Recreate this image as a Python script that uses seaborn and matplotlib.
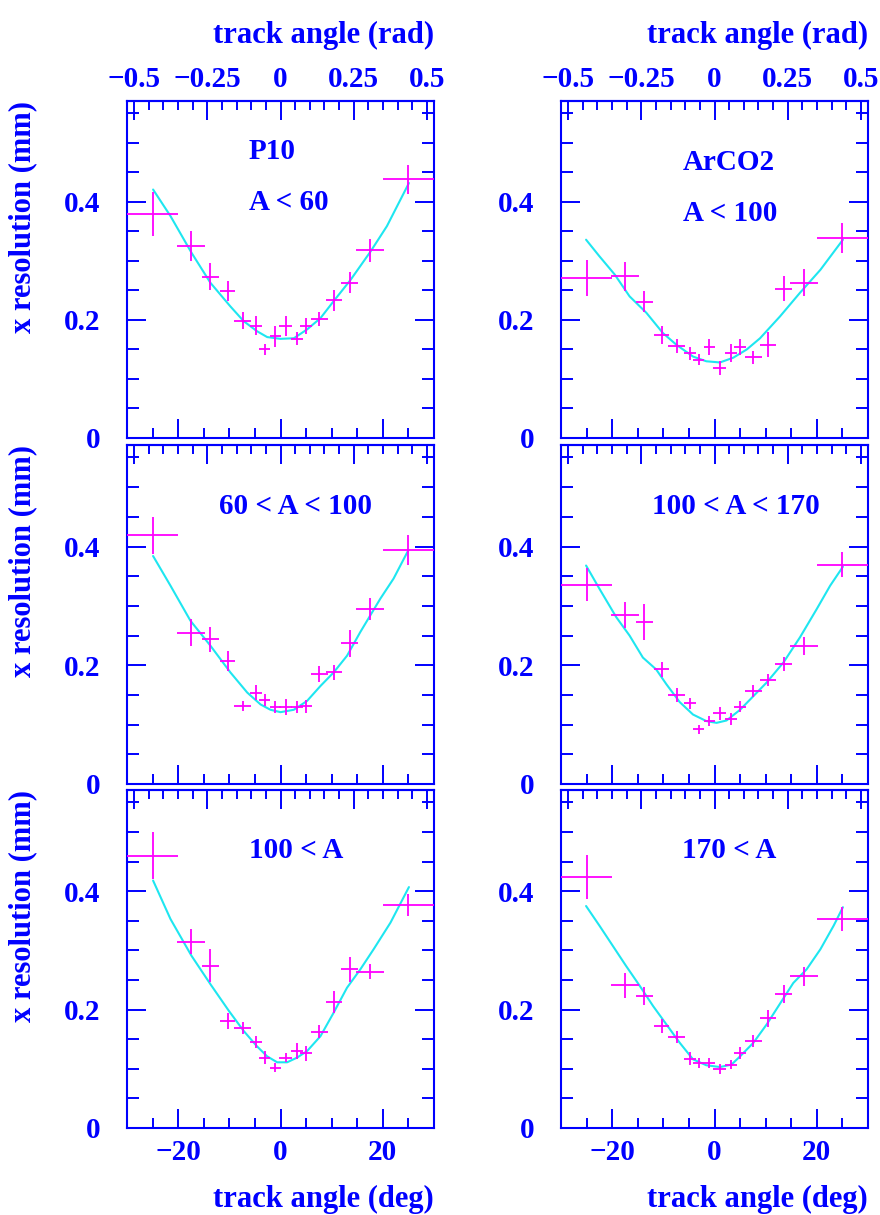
import numpy as np
import pandas as pd
import matplotlib
matplotlib.use('Agg')
import matplotlib.pyplot as plt
import seaborn as sns
from matplotlib.ticker import MultipleLocator, FixedLocator, FuncFormatter

# bin centres (deg) and half widths, same binning in every panel
angle = [-25, -17.5, -13.7, -10.3, -7.4, -4.8, -3.1, -1.0, 1.0, 3.2, 5.0, 7.6, 10.4, 13.5, 17.5, 25]
angle_err = [5, 2.7, 1.6, 1.5, 1.6, 1.15, 1.05, 1.1, 1.2, 1.2, 1.15, 1.6, 1.6, 1.7, 2.7, 5]

# measured x resolution (mm) per panel
res_p10 = [0.380, 0.325, 0.273, 0.249, 0.199, 0.190, 0.150, 0.172, 0.189, 0.168, 0.190, 0.201, 0.233, 0.263, 0.318, 0.438]
err_p10 = [0.037, 0.025, 0.023, 0.017, 0.014, 0.016, 0.010, 0.018, 0.017, 0.011, 0.013, 0.012, 0.018, 0.018, 0.019, 0.024]
res_ar100 = [0.271, 0.274, 0.231, 0.175, 0.156, 0.144, 0.133, 0.154, 0.119, 0.144, 0.154, 0.137, 0.158, 0.253, 0.263, 0.339]
err_ar100 = [0.031, 0.025, 0.018, 0.015, 0.012, 0.011, 0.009, 0.014, 0.012, 0.016, 0.014, 0.011, 0.021, 0.021, 0.023, 0.025]
res_60_100 = [0.419, 0.255, 0.244, 0.207, 0.131, 0.154, 0.141, 0.130, 0.130, 0.130, 0.131, 0.185, 0.188, 0.237, 0.295, 0.394]
err_60_100 = [0.031, 0.023, 0.021, 0.017, 0.008, 0.012, 0.010, 0.010, 0.014, 0.010, 0.011, 0.014, 0.012, 0.023, 0.018, 0.025]
res_100_170 = [0.336, 0.285, 0.273, 0.193, 0.150, 0.136, 0.092, 0.106, 0.119, 0.110, 0.130, 0.157, 0.175, 0.202, 0.233, 0.369]
err_100_170 = [0.028, 0.022, 0.030, 0.012, 0.012, 0.009, 0.008, 0.008, 0.011, 0.010, 0.009, 0.010, 0.010, 0.012, 0.015, 0.021]
res_100 = [0.460, 0.315, 0.274, 0.181, 0.169, 0.145, 0.119, 0.102, 0.119, 0.130, 0.126, 0.163, 0.213, 0.268, 0.264, 0.377]
err_100 = [0.040, 0.021, 0.028, 0.014, 0.010, 0.010, 0.011, 0.008, 0.008, 0.013, 0.013, 0.011, 0.018, 0.021, 0.013, 0.019]
res_170 = [0.424, 0.241, 0.223, 0.172, 0.154, 0.117, 0.110, 0.110, 0.100, 0.107, 0.126, 0.147, 0.185, 0.226, 0.256, 0.353]
err_170 = [0.037, 0.021, 0.015, 0.012, 0.010, 0.011, 0.008, 0.008, 0.008, 0.008, 0.010, 0.010, 0.015, 0.015, 0.016, 0.020]

# fitted curves
fit_x_p10 = [-24.9, -21.5, -17.4, -13.7, -9.8, -7.2, -4.6, -2.6, 0, 2.6, 5.2, 7.8, 10.4, 13.7, 17.6, 20.8, 25.1]
fit_y_p10 = [0.421, 0.376, 0.314, 0.263, 0.223, 0.198, 0.181, 0.171, 0.168, 0.169, 0.184, 0.203, 0.232, 0.268, 0.316, 0.359, 0.432]
fit_x_ar100 = [-25.1, -22.5, -19.5, -16.6, -13.3, -10.1, -7.45, -4.2, -1.6, 1.05, 3.66, 6.3, 8.9, 12.8, 16.7, 20.7, 25.1]
fit_y_ar100 = [0.336, 0.308, 0.277, 0.240, 0.212, 0.178, 0.158, 0.138, 0.130, 0.128, 0.136, 0.150, 0.169, 0.206, 0.246, 0.285, 0.336]
fit_x_60_100 = [-24.9, -21.5, -17.6, -13.7, -9.8, -6.5, -3.9, -1.95, 0, 2.6, 5.2, 7.8, 10.4, 13.0, 15.6, 19.5, 22.1, 25.0]
fit_y_60_100 = [0.384, 0.334, 0.275, 0.233, 0.188, 0.154, 0.134, 0.125, 0.121, 0.125, 0.140, 0.165, 0.188, 0.216, 0.256, 0.312, 0.346, 0.394]
fit_x_100_170 = [-25.1, -22.5, -19.2, -16.6, -14.0, -11.4, -9.4, -6.8, -4.2, -1.6, 0.4, 2.35, 5.0, 7.6, 10.2, 13.5, 16.7, 20.0, 22.6, 25.1]
fit_y_100_170 = [0.368, 0.329, 0.281, 0.250, 0.213, 0.193, 0.168, 0.138, 0.117, 0.106, 0.103, 0.107, 0.125, 0.148, 0.171, 0.205, 0.247, 0.295, 0.334, 0.366]
fit_x_100 = [-24.9, -21.5, -17.4, -13.7, -10.1, -7.2, -4.6, -2.6, -0.65, 1.3, 3.26, 5.2, 7.8, 10.4, 13.0, 15.6, 18.2, 21.5, 25.1]
fit_y_100 = [0.418, 0.353, 0.291, 0.243, 0.198, 0.164, 0.138, 0.121, 0.111, 0.111, 0.119, 0.130, 0.155, 0.195, 0.237, 0.268, 0.302, 0.347, 0.407]
fit_x_170 = [-25.1, -22.5, -19.9, -17.3, -14.6, -12.0, -9.4, -6.8, -4.2, -1.6, 1.05, 3.3, 5.0, 7.6, 10.2, 12.8, 15.4, 18.0, 20.7, 23.3, 25.1]
fit_y_170 = [0.375, 0.342, 0.308, 0.274, 0.240, 0.206, 0.175, 0.144, 0.116, 0.106, 0.103, 0.107, 0.121, 0.144, 0.175, 0.210, 0.245, 0.268, 0.302, 0.342, 0.373]

panel_text = [["P10", "A < 60"], ["ArCO2", "A < 100"], ["60 < A < 100"],
              ["100 < A < 170"], ["100 < A"], ["170 < A"]]
deg_ticks = [-20, 0, 20]
rad_ticks = [-0.5, -0.25, 0, 0.25, 0.5]
res_ticks = [0, 0.2, 0.4]

panels = [
    (res_p10, err_p10, fit_x_p10, fit_y_p10),
    (res_ar100, err_ar100, fit_x_ar100, fit_y_ar100),
    (res_60_100, err_60_100, fit_x_60_100, fit_y_60_100),
    (res_100_170, err_100_170, fit_x_100_170, fit_y_100_170),
    (res_100, err_100, fit_x_100, fit_y_100),
    (res_170, err_170, fit_x_170, fit_y_170),
]
# text anchor (deg, mm) for the labels in each panel
text_pos = [[(-6.25, 0.485), (-6.25, 0.399)], [(-6.25, 0.467), (-6.25, 0.380)],
            [(-12.1, 0.467)], [(-12.3, 0.467)], [(-6.25, 0.468)], [(-6.4, 0.468)]]

sns.set_style('white')
plt.rcParams['font.family'] = ['Liberation Serif', 'DejaVu Serif']
plt.rcParams['font.weight'] = 'bold'
plt.rcParams['axes.labelweight'] = 'bold'

BLUE = '#0000ff'
MAGENTA = '#ff00ff'
CYAN = '#1ee6f0'


def num_fmt(v, pos):
    if abs(v) < 1e-9:
        return '0'
    return f'{v:g}'.replace('-', '\u2212')


fig = plt.figure(figsize=(8.8, 12.15), dpi=100)
W, H = 880, 1215
col_left = [127, 561]
row_top = [101, 445, 790]
row_h = [337, 339, 338]

for i, (res, err, fx, fy) in enumerate(panels):
    row, col = divmod(i, 2)
    left, top, h, w = col_left[col], row_top[row], row_h[row], 307
    ax = fig.add_axes([left / W, 1 - (top + h) / H, w / W, h / H])

    curve = pd.DataFrame({'angle': fx, 'res': fy})
    sns.lineplot(data=curve, x='angle', y='res', sort=False, estimator=None,
                 color=CYAN, linewidth=1.5, ax=ax, legend=False, zorder=2)
    ax.errorbar(angle, res, xerr=angle_err, yerr=err, fmt='none',
                ecolor=MAGENTA, elinewidth=1.3, capsize=0, zorder=3)

    ax.set_xlim(-30, 30)
    ax.set_ylim(0, 0.571)
    ax.xaxis.set_major_locator(FixedLocator(deg_ticks))
    ax.xaxis.set_minor_locator(MultipleLocator(5))
    ax.yaxis.set_major_locator(FixedLocator(res_ticks))
    ax.yaxis.set_minor_locator(MultipleLocator(0.05))
    ax.xaxis.set_major_formatter(FuncFormatter(num_fmt))
    ax.yaxis.set_major_formatter(FuncFormatter(num_fmt))
    ax.set_xlabel('')
    ax.set_ylabel('')

    ax.tick_params(which='both', direction='in', colors=BLUE, width=1.4,
                   labelsize=21, top=False, right=True, left=True, bottom=True,
                   labelbottom=(row == 2))
    ax.tick_params(which='major', length=14)
    ax.tick_params(axis='y', which='minor', length=8.5, pad=19)
    ax.tick_params(axis='y', which='major', pad=19)
    ax.tick_params(axis='x', which='minor', length=7)
    ax.tick_params(axis='x', which='major', pad=8)
    for sp in ax.spines.values():
        sp.set_color(BLUE)
        sp.set_linewidth(1.5)

    secax = ax.secondary_xaxis('top', functions=(np.deg2rad, np.rad2deg))
    secax.xaxis.set_major_locator(FixedLocator(rad_ticks))
    secax.xaxis.set_minor_locator(MultipleLocator(0.05))
    secax.xaxis.set_major_formatter(FuncFormatter(num_fmt))
    secax.tick_params(which='both', direction='in', colors=BLUE, width=1.4,
                      labelsize=21, pad=6, labeltop=(row == 0))
    secax.tick_params(which='major', length=14)
    secax.tick_params(which='minor', length=6.5)
    secax.spines['top'].set_color(BLUE)
    secax.spines['top'].set_linewidth(1.5)

    for txt, (tx, ty) in zip(panel_text[i], text_pos[i]):
        ax.text(tx, ty, txt, ha='left', va='center', fontsize=21,
                fontweight='bold', color=BLUE)

    if col == 0:
        ax.set_ylabel('x resolution (mm)', loc='top', fontsize=22, color=BLUE)
        ax.yaxis.set_label_coords(-0.293, 1.0)
    if row == 2:
        ax.set_xlabel('track angle (deg)', loc='right', fontsize=22, color=BLUE)
        ax.xaxis.set_label_coords(1.0, -0.168)
    if row == 0:
        secax.set_xlabel('track angle (rad)', loc='right', fontsize=22,
                         color=BLUE, labelpad=16)

fig.savefig('out.png', dpi=100)
